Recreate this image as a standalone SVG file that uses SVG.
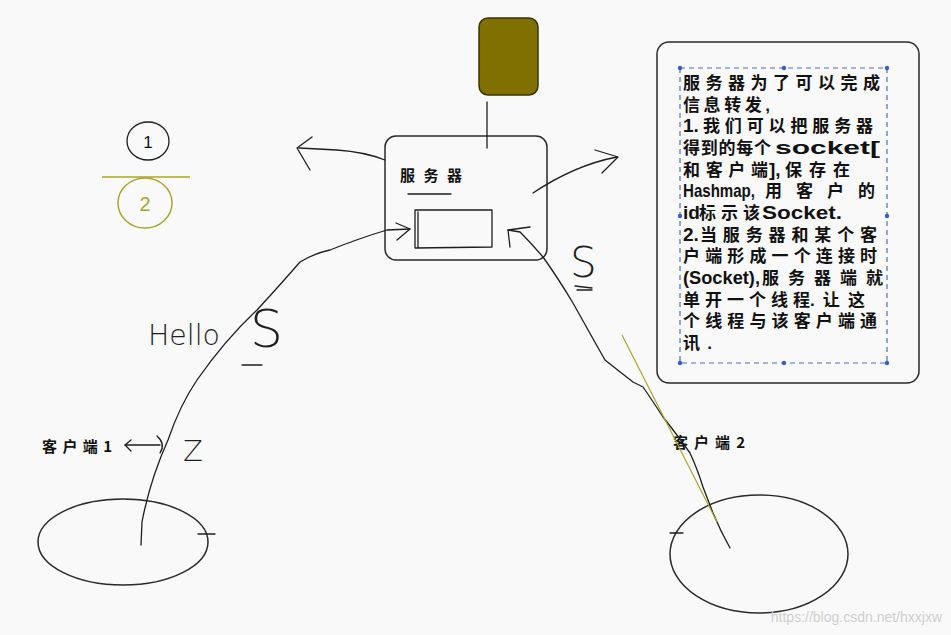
<svg xmlns="http://www.w3.org/2000/svg" width="951" height="635" viewBox="0 0 951 635">
<style>
.ln{fill:none;stroke:#1e1e1e;stroke-width:1.3;stroke-linecap:round;stroke-linejoin:round}
.box{fill:none;stroke:#2a2a2a;stroke-width:1.5}
.lbl{font-family:"Noto Sans CJK SC","Liberation Sans",sans-serif;font-weight:bold;font-size:15px;fill:#111}
.note{font-family:"Liberation Sans","Noto Sans CJK SC",sans-serif;font-weight:bold;font-size:17px;fill:#111}
.lat{font-size:19px}
.hand{font-family:"DejaVu Sans","Liberation Sans",sans-serif;font-weight:200;fill:#1e1e1e}
</style>
<rect x="0" y="0" width="951" height="635" fill="#f9f9f9"/>

<g id="db">
<rect x="479" y="18" width="59" height="77" rx="9" fill="#807000" stroke="#3a3400" stroke-width="1.5"/>
</g>

<g id="server">
<rect class="box" x="385" y="136" width="162" height="124" rx="11"/>
<text class="lbl" x="400" y="181" textLength="62" lengthAdjust="spacing">服务器</text>
<line class="ln" x1="408" y1="194" x2="451" y2="194"/>
<path class="ln" d="M415,210 L492,210 L492,247 L415,248 Z M418,212 L418,247"/>
</g>

<g id="note">
<rect class="box" x="657" y="42" width="262" height="341" rx="12"/>
<rect x="680" y="68" width="207" height="295" fill="none" stroke="#4a6fc4" stroke-width="1.2" stroke-dasharray="5,4"/>
<g fill="#3a5fc0">
<circle cx="680" cy="68" r="2.2"/><circle cx="784" cy="68" r="2.2"/><circle cx="887" cy="68" r="2.2"/>
<circle cx="680" cy="216" r="2.2"/><circle cx="887" cy="216" r="2.2"/>
<circle cx="680" cy="363" r="2.2"/><circle cx="784" cy="363" r="2.2"/><circle cx="887" cy="363" r="2.2"/>
</g>
<g class="note">
<text x="683" y="89" textLength="197" lengthAdjust="spacing">服务器为了可以完成</text>
<text x="683" y="110.7" textLength="87" lengthAdjust="spacing">信息转发,</text>
<text class="lat" x="683" y="132.3">1.</text>
<text x="703" y="132.3" textLength="170" lengthAdjust="spacing">我们可以把服务器</text>
<text x="683" y="154" textLength="88" lengthAdjust="spacing">得到的每个</text>
<text class="lat" x="775" y="154" textLength="105" lengthAdjust="spacingAndGlyphs">socket[</text>
<text x="683" y="175.7" textLength="85" lengthAdjust="spacing">和客户端</text>
<text class="lat" x="769" y="175.7">],</text>
<text x="785" y="175.7" textLength="65" lengthAdjust="spacing">保存在</text>
<text class="lat" x="683" y="197.3" textLength="72" lengthAdjust="spacingAndGlyphs">Hashmap,</text>
<text x="765" y="197.3" textLength="110" lengthAdjust="spacing">用客户的</text>
<text class="lat" x="683" y="219">id</text>
<text x="699" y="219" textLength="61" lengthAdjust="spacing">标示该</text>
<text class="lat" x="762" y="219" textLength="80" lengthAdjust="spacingAndGlyphs">Socket.</text>
<text class="lat" x="683" y="240.7">2.</text>
<text x="700" y="240.7" textLength="177" lengthAdjust="spacing">当服务器和某个客</text>
<text x="683" y="262.3" textLength="194" lengthAdjust="spacing">户端形成一个连接时</text>
<text class="lat" x="683" y="284" textLength="77" lengthAdjust="spacingAndGlyphs">(Socket),</text>
<text x="762" y="284" textLength="121" lengthAdjust="spacing">服务器端就</text>
<text x="683" y="305.7" textLength="127" lengthAdjust="spacing">单开一个线程</text>
<text x="810" y="305.7" textLength="55" lengthAdjust="spacing">.让这</text>
<text x="683" y="327.3" textLength="194" lengthAdjust="spacing">个线程与该客户端通</text>
<text x="683" y="349" textLength="29" lengthAdjust="spacing">讯.</text>
</g>
</g>

<g id="client1">
<ellipse class="box" cx="123" cy="542" rx="85" ry="43" stroke-width="1.3"/>
<line class="ln" x1="198" y1="534" x2="215" y2="534"/>
<text class="lbl" x="42" y="452" textLength="70" lengthAdjust="spacing">客户端1</text>
</g>

<g id="client2">
<ellipse class="box" cx="759" cy="554" rx="89" ry="59" stroke-width="1.3"/>
<line class="ln" x1="670" y1="533" x2="683" y2="533"/>
<text class="lbl" x="673" y="448" textLength="72" lengthAdjust="spacing">客户端2</text>
</g>

<g id="marks">
<ellipse cx="148" cy="141" rx="21" ry="19" fill="none" stroke="#1e1e1e" stroke-width="1.3"/>
<text x="148" y="148" font-family="Liberation Sans,sans-serif" font-size="17" text-anchor="middle" fill="#111111">1</text>
<line x1="102" y1="177" x2="190" y2="177" stroke="#a9a52c" stroke-width="1.5"/>
<ellipse cx="145" cy="203" rx="27" ry="25" fill="none" stroke="#a9a52c" stroke-width="1.5"/>
<text x="145" y="211" font-family="Liberation Sans,sans-serif" font-size="20" text-anchor="middle" fill="#a9a52c">2</text>
<text class="hand" x="148" y="345" font-size="28" textLength="72" lengthAdjust="spacingAndGlyphs">Hello</text>
<text class="hand" x="250" y="347" font-size="52">S</text>
<line class="ln" x1="242" y1="365" x2="262" y2="365"/>
<text class="hand" x="570" y="277" font-size="42">S</text>
<line class="ln" x1="575" y1="286" x2="592" y2="288"/>
<line class="ln" x1="577" y1="290" x2="592" y2="290"/>
<text class="hand" x="183" y="461" font-size="29">Z</text>
<text x="942" y="622" font-family="Liberation Sans,sans-serif" font-size="14" fill="#cfcfcf" text-anchor="end">https://blog.csdn.net/hxxjxw</text>
</g>

<g id="connectors">
<path class="ln" d="M487,102 L487,148"/>
<path class="ln" d="M385,160 Q365,152 337,150 L299,148"/>
<polyline class="ln" points="312,137 297,148 310,170"/>
<path class="ln" d="M533,193 Q575,165 617,157"/>
<polyline class="ln" points="595,150 618,157 602,173"/>
<path class="ln" d="M141,545 L142,522 Q150,480 168,440 Q180,405 197,380 Q225,340 257,310 Q280,285 300,262 Q315,253 330,250 Q360,238 387,230 L410,229"/>
<polyline class="ln" points="396,223 410,229 397,240"/>
<path class="ln" d="M730,548 Q720,530 713,513 Q708,500 703,487 Q697,468 690,453 Q675,432 663,417 Q650,397 643,387 L633,382 Q615,368 605,360 Q588,330 573,303 Q558,278 543,257 Q530,242 520,232 L508,230"/>
<polyline class="ln" points="510,247 508,230 530,227"/>
<path d="M622,335 L717,522" fill="none" stroke="#a9a52c" stroke-width="1.2"/>
<line class="ln" x1="125" y1="445" x2="160" y2="445"/>
<polyline class="ln" points="131,440 125,445 131,451"/>
<path class="ln" d="M157,436 Q166,444 160,453"/>
</g>
</svg>
